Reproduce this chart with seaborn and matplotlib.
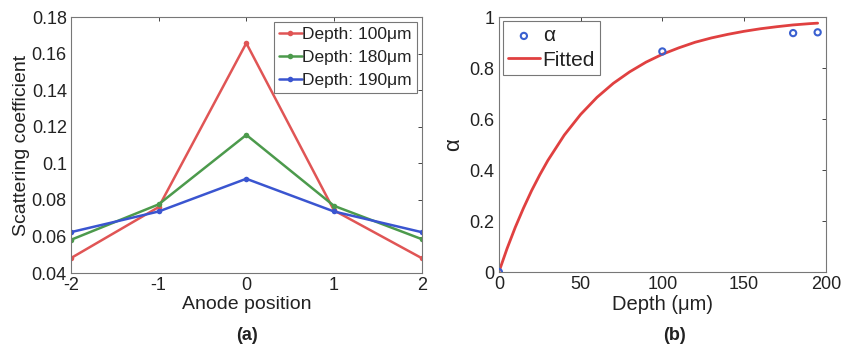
import numpy as np
import pandas as pd
import matplotlib
matplotlib.use("Agg")
import matplotlib.pyplot as plt
import seaborn as sns

# panel (a): scattering coefficient vs anode position
anode = [-2, -1, 0, 1, 2]
depth_100 = [0.0482, 0.0761, 0.1658, 0.0743, 0.0482]
depth_180 = [0.0582, 0.0776, 0.1156, 0.0768, 0.0586]
depth_190 = [0.0624, 0.0737, 0.0916, 0.0737, 0.0624]
series_names = ["Depth: 100\u03bcm", "Depth: 180\u03bcm", "Depth: 190\u03bcm"]
series_colors = ["#e05555", "#4c9a4c", "#3a55d0"]

# panel (b): alpha vs depth, measured points and fitted curve
alpha_depth = [0, 100, 180, 195]
alpha_vals = [0.0, 0.865, 0.937, 0.94]
fit_depth = [0, 5, 10, 15, 20, 25, 30, 40, 50, 60, 70, 80, 90, 100, 110, 120,
             130, 140, 150, 160, 170, 180, 190, 195]
fit_vals = [0.0, 0.092, 0.175, 0.250, 0.319, 0.381, 0.438, 0.537, 0.618,
            0.685, 0.740, 0.785, 0.823, 0.854, 0.879, 0.901, 0.918, 0.932,
            0.944, 0.954, 0.962, 0.969, 0.974, 0.976]

sns.set_theme(style="white")
plt.rcParams["font.family"] = ["Liberation Sans", "DejaVu Sans"]
plt.rcParams["xtick.direction"] = "in"
plt.rcParams["ytick.direction"] = "in"

txt = "#222222"

tabela = pd.DataFrame({
    "anode": anode * 3,
    "coef": depth_100 + depth_180 + depth_190,
    "serie": [n for n in series_names for _ in anode],
})

fig = plt.figure(figsize=(8.47, 3.51), dpi=100)
ax1 = fig.add_axes([0.0838, 0.222, 0.414, 0.729])
ax2 = fig.add_axes([0.589, 0.225, 0.386, 0.7265])

sns.lineplot(data=tabela, x="anode", y="coef", hue="serie",
             palette=series_colors, marker="o", markersize=4,
             markeredgewidth=0, linewidth=1.8, ax=ax1)

ax1.set_xlim(-2, 2)
ax1.set_ylim(0.04, 0.18)
ax1.set_xticks(anode)
ax1.set_xticklabels(["-2", "-1", "0", "1", "2"])
yt = [0.04, 0.06, 0.08, 0.1, 0.12, 0.14, 0.16, 0.18]
ax1.set_yticks(yt)
ax1.set_yticklabels(["0.04", "0.06", "0.08", "0.1", "0.12", "0.14", "0.16", "0.18"])
ax1.set_xlabel("Anode position", fontsize=14, color=txt, labelpad=1)
ax1.set_ylabel("Scattering coefficient", fontsize=14, color=txt, labelpad=1)
leg1 = ax1.legend(loc="upper right", fontsize=12.5, frameon=True, fancybox=False,
                  handlelength=1.3, handletextpad=0.05, borderpad=0.3,
                  labelspacing=0.45, borderaxespad=0.25)
leg1.get_frame().set_edgecolor("#555555")
leg1.get_frame().set_linewidth(0.8)
for t in leg1.get_texts():
    t.set_color(txt)

sns.lineplot(x=fit_depth, y=fit_vals, color="#e04040", linewidth=2,
             label="Fitted", ax=ax2, zorder=2)
sns.scatterplot(x=alpha_depth, y=alpha_vals, marker="o", s=20,
                facecolor="none", edgecolor="#3a60d0", linewidth=1.5,
                label="\u03b1", ax=ax2, zorder=3)

ax2.set_xlim(0, 200)
ax2.set_ylim(0, 1)
ax2.set_xticks([0, 50, 100, 150, 200])
ax2.set_yticks([0, 0.2, 0.4, 0.6, 0.8, 1])
ax2.set_yticklabels(["0", "0.2", "0.4", "0.6", "0.8", "1"])
ax2.set_xlabel("Depth (\u03bcm)", fontsize=14.5, color=txt, labelpad=1)
ax2.set_ylabel("\u03b1", fontsize=16, color=txt, labelpad=4)
h, l = ax2.get_legend_handles_labels()
leg2 = ax2.legend([h[1], h[0]], [l[1], l[0]], loc="upper left", fontsize=15,
                  frameon=True, fancybox=False, handlelength=1.5,
                  handletextpad=0.15, borderpad=0.25, labelspacing=0.25,
                  borderaxespad=0.2)
leg2.get_frame().set_edgecolor("#555555")
leg2.get_frame().set_linewidth(0.8)
for t in leg2.get_texts():
    t.set_color(txt)

for ax in (ax1, ax2):
    ax.tick_params(labelsize=13, labelcolor=txt, length=3, width=0.6,
                   top=True, right=True, pad=3)
    for sp in ax.spines.values():
        sp.set_color("#777777")
        sp.set_linewidth(0.8)

fig.text(247 / 847, 1 - 335 / 351, "(a)", ha="center", va="center",
         fontsize=13, fontweight="bold", color=txt)
fig.text(674 / 847, 1 - 335 / 351, "(b)", ha="center", va="center",
         fontsize=13, fontweight="bold", color=txt)

plt.savefig("out.png", dpi=100)
